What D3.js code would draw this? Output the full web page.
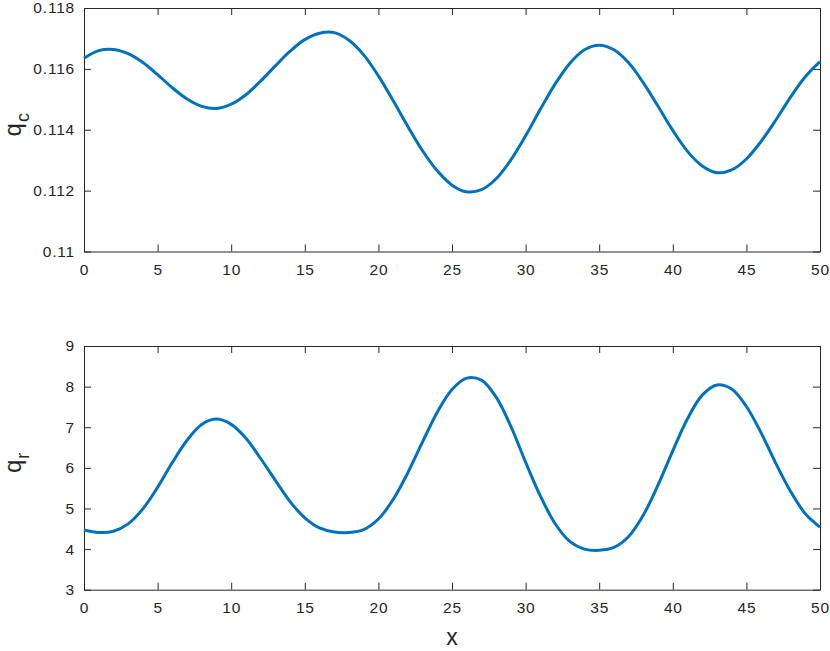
<!DOCTYPE html>
<html>
<head>
<meta charset="utf-8">
<script src="https://cdn.jsdelivr.net/npm/d3@7"></script>
<style>
  body { margin: 0; background: #fff; }
  .axis text { font-family: "Liberation Sans", Arial, sans-serif; font-size: 15.5px; fill: #262626; letter-spacing: 0.8px; }
  .axis path, .axis line { stroke: #262626; stroke-width: 1; }
  .label { font-family: "Liberation Sans", Arial, sans-serif; fill: #262626; }
</style>
</head>
<body>
<div id="chart"></div>
<script>
// x positions, read every 1 unit
var xs = d3.range(0, 51);

// top panel, q_c
var qc = [
  0.11635, 0.11660, 0.11664, 0.11650, 0.11621, 0.11581, 0.11538, 0.11501, 0.11477, 0.11470,
  0.11484, 0.11515, 0.11560, 0.11610, 0.11658, 0.11696, 0.11717, 0.11719, 0.11694, 0.11646,
  0.11577, 0.11496, 0.11411, 0.11331, 0.11265, 0.11218, 0.11196, 0.11203, 0.11239, 0.11301,
  0.11380, 0.11467, 0.11550, 0.11618, 0.11663, 0.11678, 0.11663, 0.11620, 0.11554, 0.11477,
  0.11398, 0.11329, 0.11281, 0.11259, 0.11268, 0.11304, 0.11362, 0.11432, 0.11507, 0.11574,
  0.11624
];

// bottom panel, q_r
var qr = [
  4.47, 4.41, 4.44, 4.62, 4.99, 5.52, 6.13, 6.68, 7.07, 7.20,
  7.07, 6.73, 6.23, 5.69, 5.17, 4.77, 4.52, 4.42, 4.41, 4.48,
  4.74, 5.22, 5.88, 6.64, 7.37, 7.93, 8.21, 8.16, 7.74, 7.02,
  6.14, 5.31, 4.63, 4.19, 4.00, 3.97, 4.04, 4.31, 4.84, 5.58,
  6.42, 7.21, 7.79, 8.04, 7.94, 7.51, 6.86, 6.11, 5.42, 4.87,
  4.54
];

var xTicks = [0, 5, 10, 15, 20, 25, 30, 35, 40, 45, 50];
var qcTicks = [0.11, 0.112, 0.114, 0.116, 0.118];
var qrTicks = [3, 4, 5, 6, 7, 8, 9];

var svgWidth = 830, svgHeight = 651;
var left = 84, right = 820;
var tickLen = 7;
var lineColor = "#0072BD";

var svg = d3.select("#chart").append("svg")
  .attr("width", svgWidth)
  .attr("height", svgHeight);

var x = d3.scaleLinear().domain([0, 50]).range([left, right]);

function panel(values, yDomain, yTicks, yFormat, top, bottom, sub) {
  var y = d3.scaleLinear().domain(yDomain).range([bottom, top]);
  var g = svg.append("g");

  // box with ticks pointing inward on all four sides
  g.append("g").attr("class", "axis")
    .attr("transform", "translate(0," + bottom + ")")
    .call(d3.axisBottom(x).tickValues(xTicks).tickSizeInner(-tickLen).tickSizeOuter(0).tickPadding(12));
  g.append("g").attr("class", "axis")
    .attr("transform", "translate(0," + top + ")")
    .call(d3.axisTop(x).tickValues(xTicks).tickSizeInner(-tickLen).tickSizeOuter(0).tickFormat(""));
  g.append("g").attr("class", "axis")
    .attr("transform", "translate(" + left + ",0)")
    .call(d3.axisLeft(y).tickValues(yTicks).tickSizeInner(-tickLen).tickSizeOuter(0).tickPadding(9).tickFormat(yFormat));
  g.append("g").attr("class", "axis")
    .attr("transform", "translate(" + right + ",0)")
    .call(d3.axisRight(y).tickValues(yTicks).tickSizeInner(-tickLen).tickSizeOuter(0).tickFormat(""));

  var line = d3.line()
    .x(function(d, i) { return x(xs[i]); })
    .y(function(d) { return y(d); })
    .curve(d3.curveCatmullRom.alpha(0.5));

  g.append("path")
    .datum(values)
    .attr("d", line)
    .attr("fill", "none")
    .attr("stroke", lineColor)
    .attr("stroke-width", 3);

  // y label: q with subscript
  var cy = (top + bottom) / 2 - 5;
  var t = g.append("text").attr("class", "label")
    .attr("transform", "translate(21," + cy + ") rotate(-90)")
    .attr("text-anchor", "middle")
    .style("font-size", "24px");
  t.append("tspan").text("q");
  t.append("tspan").text(sub).attr("dy", 8).attr("dx", 1).style("font-size", "18px");
}

panel(qc, [0.11, 0.118], qcTicks, function(d) { return String(+d.toFixed(3)); }, 8, 251.5, "c");
panel(qr, [3, 9], qrTicks, d3.format("d"), 346, 589.7, "r");

svg.append("text").attr("class", "label")
  .attr("x", (left + right) / 2)
  .attr("y", 645)
  .attr("text-anchor", "middle")
  .style("font-size", "23px")
  .text("x");
</script>
</body>
</html>
